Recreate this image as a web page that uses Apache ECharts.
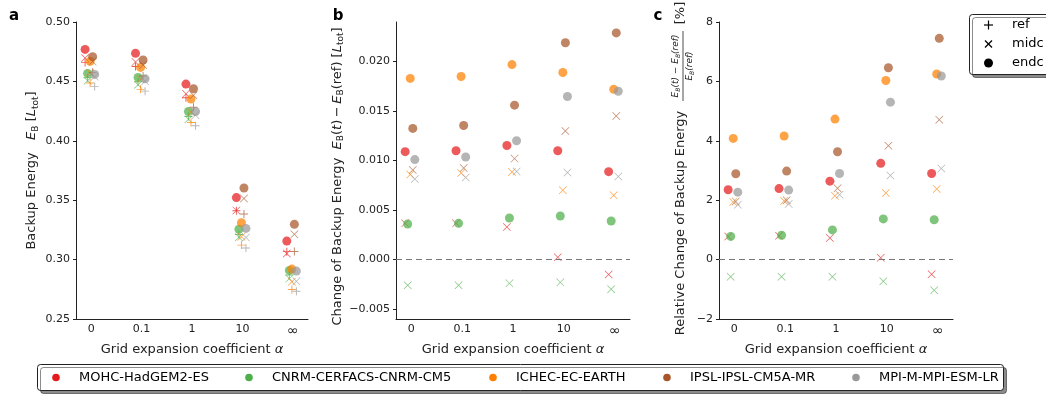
<!DOCTYPE html>
<html>
<head>
<meta charset="utf-8">
<script src="https://cdn.jsdelivr.net/npm/echarts@6/dist/echarts.min.js"></script>
<style>
  html, body { margin: 0; padding: 0; background: #fff; }
  #chart { width: 1046px; height: 394px; }
</style>
</head>
<body>
<div id="chart"></div>
<script>
const alphaLabels = ['0', '0.1', '1', '10', '∞']
const modelNames = [
  'MOHC-HadGEM2-ES',
  'CNRM-CERFACS-CNRM-CM5',
  'ICHEC-EC-EARTH',
  'IPSL-IPSL-CM5A-MR',
  'MPI-M-MPI-ESM-LR',
]
const modelColors = ['#e41a1c', '#4daf4a', '#ff7f00', '#a65628', '#999999']

// backup energy of the reference period, per model, per alpha [L_tot]
const refEnergy = [
  [0.4660, 0.4626, 0.4362, 0.3412, 0.3067],
  [0.4531, 0.4497, 0.4205, 0.3211, 0.2870],
  [0.4487, 0.4433, 0.4154, 0.3122, 0.2748],
  [0.4576, 0.4545, 0.4282, 0.3384, 0.3068],
  [0.4458, 0.4418, 0.4127, 0.3098, 0.2733],
]
// change E_B(t) - E_B(ref), mid century and end of century
const midcChange = [
  [0.00366, 0.00366, 0.0033, 0.00023, -0.0015],
  [-0.0026, -0.0026, -0.0024, -0.0023, -0.0030],
  [0.0086, 0.00875, 0.00885, 0.0070, 0.0065],
  [0.00905, 0.00925, 0.0102, 0.0130, 0.0145],
  [0.00815, 0.0083, 0.0089, 0.0088, 0.0084],
]
const endcChange = [
  [0.0109, 0.0110, 0.01153, 0.0110, 0.00888],
  [0.0036, 0.00366, 0.0042, 0.0044, 0.0039],
  [0.0183, 0.0185, 0.0197, 0.0189, 0.0172],
  [0.01325, 0.01355, 0.0156, 0.0219, 0.0229],
  [0.0101, 0.01036, 0.0120, 0.01647, 0.0170],
]
// relative change [%]
const midcRelative = [
  [0.78, 0.80, 0.73, 0.06, -0.49],
  [-0.58, -0.58, -0.58, -0.73, -1.03],
  [1.94, 1.97, 2.15, 2.24, 2.38],
  [1.96, 2.00, 2.40, 3.83, 4.71],
  [1.85, 1.87, 2.18, 2.83, 3.07],
]
const endcRelative = [
  [2.35, 2.39, 2.64, 3.24, 2.90],
  [0.78, 0.82, 1.00, 1.37, 1.34],
  [4.08, 4.16, 4.73, 6.03, 6.25],
  [2.89, 2.98, 3.63, 6.46, 7.45],
  [2.27, 2.34, 2.90, 5.30, 6.18],
]

const markerLabels = ['ref', 'midc', 'endc']

// layout / style
const FONT = 'DejaVu Sans'
const INK = '#222'
const modelShift = [-0.12, -0.07, -0.02, 0.03, 0.07]
const PLUS = 'path://M4.4,0H5.6V4.4H10V5.6H5.6V10H4.4V5.6H0V4.4H4.4Z'
const CROSS = 'path://M0,0.6L0.6,0L5,4.4L9.4,0L10,0.6L5.6,5L10,9.4L9.4,10L5,5.6L0.6,10L0,9.4L4.4,5Z'
const grids = [
  { left: 76, top: 22, width: 232, height: 297 },
  { left: 396, top: 22, width: 234, height: 297 },
  { left: 719, top: 22, width: 234, height: 297 },
]

const chart = echarts.init(document.getElementById('chart'), null, { renderer: 'canvas' })

const rich = {
  t: { fontSize: 13, fontFamily: FONT, color: INK },
  i: { fontSize: 13, fontFamily: FONT, fontStyle: 'italic', color: INK },
  s: { fontSize: 9, fontFamily: FONT, color: INK, padding: [7, 0, 0, 0] },
}

function fmtMinus(s) {
  return s.replace('-', '\u2212')
}

function xAxis(gridIndex) {
  return {
    type: 'value',
    gridIndex,
    min: -0.3,
    max: 4.3,
    axisLine: { show: true, onZero: false, lineStyle: { color: INK, width: 1 } },
    axisTick: { show: false },
    splitLine: { show: false },
    axisLabel: {
      customValues: [0, 1, 2, 3, 4],
      formatter: (v) => {
        const label = alphaLabels[Math.round(v)]
        return label === '∞' ? '{inf|∞}' : label
      },
      rich: { inf: { fontSize: 14, fontFamily: FONT, color: INK } },
      fontSize: 11,
      fontFamily: FONT,
      color: INK,
      margin: 5,
    },
    name: '{t|Grid expansion coefficient }{i|α}',
    nameLocation: 'middle',
    nameGap: 14,
    nameTextStyle: { rich },
  }
}

function yAxis(gridIndex, extra) {
  return Object.assign({
    type: 'value',
    gridIndex,
    axisLine: { show: true, onZero: false, lineStyle: { color: INK, width: 1 } },
    axisTick: { show: true, length: 3, lineStyle: { color: INK } },
    splitLine: { show: false },
    nameLocation: 'middle',
    nameRotate: 90,
    nameTextStyle: { rich },
  }, extra)
}

const bTicks = [-0.005, 0, 0.005, 0.01, 0.015, 0.02]

const yAxes = [
  yAxis(0, {
    min: 0.25, max: 0.5, interval: 0.05,
    axisLabel: { formatter: (v) => v.toFixed(2), fontSize: 11, fontFamily: FONT, color: INK, margin: 6 },
    name: '{t|Backup Energy   }{i|E}{s|B}{t| [}{i|L}{s|tot}{t|]}',
    nameGap: 36,
  }),
  yAxis(1, {
    min: -0.006, max: 0.024,
    axisTick: { show: true, length: 3, lineStyle: { color: INK }, customValues: bTicks },
    axisLabel: {
      customValues: bTicks,
      formatter: (v) => fmtMinus(v.toFixed(3)),
      fontSize: 11, fontFamily: FONT, color: INK, margin: 6,
    },
    name: '{t|Change of Backup Energy  }{i|E}{s|B}{t|(}{i|t}{t|)\u2009−\u2009}{i|E}{s|B}{t|(ref) [}{i|L}{s|tot}{t|]}',
    nameGap: 49,
    nameTextStyle: { rich, padding: [0, 12, 0, 0] },
  }),
  yAxis(2, {
    min: -2, max: 8, interval: 2,
    axisLabel: { formatter: (v) => fmtMinus(String(v)), fontSize: 11, fontFamily: FONT, color: INK, margin: 6 },
  }),
]

function scatter(panel, name, symbol, size, m, values) {
  return {
    type: 'scatter',
    name,
    xAxisIndex: panel,
    yAxisIndex: panel,
    symbol,
    symbolSize: size,
    silent: true,
    itemStyle: { color: modelColors[m], opacity: 0.72 },
    data: values.map((v, i) => [i + modelShift[m], v]),
  }
}

const zeroLine = {
  silent: true,
  symbol: 'none',
  label: { show: false },
  lineStyle: { color: '#777', type: [6, 4], width: 1, opacity: 1 },
  data: [{ yAxis: 0 }],
}

const series = []
// dashed zero lines of panels b and c
;[1, 2].forEach((p) => {
  series.push({ type: 'scatter', xAxisIndex: p, yAxisIndex: p, data: [], markLine: zeroLine })
})

modelNames.forEach((name, m) => {
  const midcEnergy = refEnergy[m].map((v, i) => v + midcChange[m][i])
  const endcEnergy = refEnergy[m].map((v, i) => v + endcChange[m][i])
  series.push(scatter(0, name + ' ref', PLUS, 8, m, refEnergy[m]))
  series.push(scatter(0, name + ' midc', CROSS, 8, m, midcEnergy))
  series.push(scatter(0, name, 'circle', 9, m, endcEnergy))
  series.push(scatter(1, name + ' midc', CROSS, 8, m, midcChange[m]))
  series.push(scatter(1, name, 'circle', 9, m, endcChange[m]))
  series.push(scatter(2, name + ' midc', CROSS, 8, m, midcRelative[m]))
  series.push(scatter(2, name, 'circle', 9, m, endcRelative[m]))
})

// legends and labels drawn as graphic elements
const graphic = []
const letter = (text, x, y) => ({
  type: 'text', x, y,
  style: { text, font: 'bold 15px ' + FONT, fill: '#000', textAlign: 'center', textVerticalAlign: 'middle' },
})
graphic.push(letter('a', 14, 16), letter('b', 338, 16), letter('c', 658, 16))

// panel c y label with fraction
const rot = Math.PI / 2
const fracFont = 'italic 9px ' + FONT
const fracRich = {
  i: { font: fracFont, fill: INK },
  s: { font: 'italic 6px ' + FONT, fill: INK, padding: [4, 0, 0, 0] },
}
graphic.push(
  {
    type: 'text', x: 681, y: 223, rotation: rot,
    style: { text: 'Relative Change of Backup Energy', font: '13px ' + FONT, fill: INK, textAlign: 'center', textVerticalAlign: 'middle' },
  },
  {
    type: 'text', x: 676, y: 66, rotation: rot,
    style: { text: '{i|E}{s|B}{i|(t) − E}{s|B}{i|(ref)}', textAlign: 'center', textVerticalAlign: 'middle', rich: fracRich },
  },
  {
    type: 'line', shape: { x1: 683, y1: 101, x2: 683, y2: 31 },
    style: { stroke: INK, lineWidth: 0.8 },
  },
  {
    type: 'text', x: 690, y: 66, rotation: rot,
    style: { text: '{i|E}{s|B}{i|(ref)}', textAlign: 'center', textVerticalAlign: 'middle', rich: fracRich },
  },
  {
    type: 'text', x: 681, y: 13, rotation: rot,
    style: { text: '[%]', font: '13px ' + FONT, fill: INK, textAlign: 'center', textVerticalAlign: 'middle' },
  }
)

// marker legend (top right)
graphic.push({
  type: 'rect', shape: { x: 969.5, y: 14.5, width: 92, height: 60, r: 3 },
  style: { fill: '#fff', stroke: INK, lineWidth: 1, shadowColor: 'rgba(0,0,0,0.45)', shadowOffsetX: 3, shadowOffsetY: 3, shadowBlur: 0 },
  z: 10,
})
const mkY = [25, 44, 63]
graphic.push(
  { type: 'line', shape: { x1: 984, y1: mkY[0], x2: 993, y2: mkY[0] }, style: { stroke: '#000', lineWidth: 1.2 }, z: 11 },
  { type: 'line', shape: { x1: 988.5, y1: mkY[0] - 4.5, x2: 988.5, y2: mkY[0] + 4.5 }, style: { stroke: '#000', lineWidth: 1.2 }, z: 11 },
  { type: 'line', shape: { x1: 985, y1: mkY[1] - 3.5, x2: 992, y2: mkY[1] + 3.5 }, style: { stroke: '#000', lineWidth: 1.2 }, z: 11 },
  { type: 'line', shape: { x1: 985, y1: mkY[1] + 3.5, x2: 992, y2: mkY[1] - 3.5 }, style: { stroke: '#000', lineWidth: 1.2 }, z: 11 },
  { type: 'circle', shape: { cx: 988.5, cy: mkY[2], r: 4.5 }, style: { fill: '#000' }, z: 11 }
)
markerLabels.forEach((t, k) => {
  graphic.push({
    type: 'text', x: 1012, y: mkY[k], z: 11,
    style: { text: t, font: '13px ' + FONT, fill: '#000', textVerticalAlign: 'middle' },
  })
})

// model legend (bottom)
const legendTextX = [79, 272, 516, 690, 879]
graphic.push({
  type: 'rect', shape: { x: 37.5, y: 364.5, width: 966, height: 26, r: 3 },
  style: { fill: '#fff', stroke: INK, lineWidth: 1, shadowColor: 'rgba(0,0,0,0.45)', shadowOffsetX: 3, shadowOffsetY: 3, shadowBlur: 0 },
})
modelNames.forEach((name, m) => {
  graphic.push(
    { type: 'circle', shape: { cx: legendTextX[m] - 23, cy: 377.5, r: 3.8 }, style: { fill: modelColors[m] } },
    { type: 'text', x: legendTextX[m], y: 377.5, style: { text: name, font: '13px ' + FONT, fill: '#000', textVerticalAlign: 'middle' } }
  )
})

chart.setOption({
  animation: false,
  backgroundColor: '#fff',
  textStyle: { fontFamily: FONT },
  grid: grids,
  xAxis: [xAxis(0), xAxis(1), xAxis(2)],
  yAxis: yAxes,
  series,
  graphic,
})
</script>
</body>
</html>
